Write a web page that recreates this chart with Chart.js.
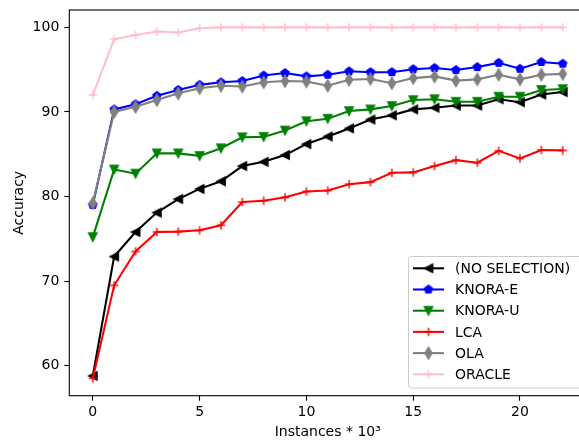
<!DOCTYPE html>
<html lang="en">
<head>
    <meta charset="UTF-8">
    <title>Accuracy vs instances</title>
    <script src="https://cdn.jsdelivr.net/npm/chart.js@4.4.1/dist/chart.umd.min.js"></script>
    <style>
        html, body { margin: 0; padding: 0; overflow: hidden; background: #fff; }
        #wrap { position: absolute; left: 0; top: 0; width: 600px; height: 442px; }
    </style>
</head>
<body>
<div id="wrap"><canvas id="accChart" width="600" height="442"></canvas></div>
<script>
    // --- data ---
    const instances = [0, 1, 2, 3, 4, 5, 6, 7, 8, 9, 10, 11, 12, 13, 14, 15, 16, 17, 18, 19, 20, 21, 22];
    const noSelection = [58.8, 72.9, 75.8, 78.1, 79.7, 80.9, 81.8, 83.6, 84.1, 84.9, 86.2, 87.1, 88.05, 89.1, 89.6, 90.3, 90.5, 90.75, 90.75, 91.5, 91.15, 92.05, 92.35];
    const knoraE = [79.0, 90.3, 90.9, 91.9, 92.6, 93.2, 93.5, 93.65, 94.3, 94.6, 94.2, 94.4, 94.8, 94.7, 94.7, 95.05, 95.2, 94.95, 95.3, 95.8, 95.1, 95.9, 95.7];
    const knoraU = [75.2, 83.2, 82.7, 85.1, 85.1, 84.8, 85.7, 87.0, 87.05, 87.8, 88.9, 89.2, 90.1, 90.3, 90.7, 91.4, 91.5, 91.2, 91.2, 91.8, 91.8, 92.6, 92.7];
    const lca = [58.5, 69.5, 73.5, 75.8, 75.85, 76.0, 76.6, 79.35, 79.5, 79.9, 80.6, 80.7, 81.45, 81.7, 82.8, 82.85, 83.6, 84.3, 84.0, 85.4, 84.5, 85.5, 85.45];
    const ola = [79.2, 90.0, 90.6, 91.4, 92.2, 92.8, 93.1, 93.0, 93.5, 93.65, 93.6, 93.1, 93.8, 93.9, 93.4, 94.0, 94.2, 93.7, 93.85, 94.4, 93.85, 94.4, 94.5];
    const oracle = [92.0, 98.6, 99.1, 99.5, 99.4, 99.9, 100, 100, 100, 100, 100, 100, 100, 100, 100, 100, 100, 100, 100, 100, 100, 100, 100];
    const seriesNames = ['(NO SELECTION)', 'KNORA-E', 'KNORA-U', 'LCA', 'OLA', 'ORACLE'];
    const xTicks = [0, 5, 10, 15, 20];
    const yTicks = [60, 70, 80, 90, 100];

    const FONT = { family: '"DejaVu Sans", sans-serif', size: 14 };
    const MS = 8.33;   // marker size (6pt)
    const MEW = 1.39;  // marker edge width

    // matplotlib-like markers drawn on small canvases
    function makeMarker(shape, color) {
        const c = document.createElement('canvas');
        c.width = 18; c.height = 18;
        const g = c.getContext('2d');
        const h = MS / 2;
        g.translate(9, 9);
        g.fillStyle = color; g.strokeStyle = color; g.lineWidth = MEW; g.lineJoin = 'miter';
        g.beginPath();
        if (shape === '<') {
            g.moveTo(-h, 0); g.lineTo(h, -h); g.lineTo(h, h); g.closePath();
        } else if (shape === 'v') {
            g.moveTo(0, h); g.lineTo(-h, -h); g.lineTo(h, -h); g.closePath();
        } else if (shape === 'p') {
            for (let k = 0; k < 5; k++) {
                const a = -Math.PI / 2 + k * 2 * Math.PI / 5;
                const px = h * Math.cos(a), py = h * Math.sin(a);
                if (k === 0) g.moveTo(px, py); else g.lineTo(px, py);
            }
            g.closePath();
        } else if (shape === 'd') {
            const dy = MS * Math.SQRT2 / 2, dx = dy * 0.6;
            g.moveTo(0, -dy); g.lineTo(dx, 0); g.lineTo(0, dy); g.lineTo(-dx, 0); g.closePath();
        } else if (shape === '+') {
            g.moveTo(-h, 0); g.lineTo(h, 0); g.moveTo(0, -h); g.lineTo(0, h);
            g.stroke();
            return c;
        }
        g.fill(); g.stroke();
        return c;
    }

    const styles = [
        { color: '#000000', marker: '<', data: noSelection },
        { color: '#0000ff', marker: 'p', data: knoraE },
        { color: '#008000', marker: 'v', data: knoraU },
        { color: '#ff0000', marker: '+', data: lca },
        { color: '#808080', marker: 'd', data: ola },
        { color: '#ffc0cb', marker: '+', data: oracle }
    ];

    const datasets = styles.map((s, i) => ({
        label: seriesNames[i],
        data: instances.map((x, j) => ({ x: x, y: s.data[j] })),
        borderColor: s.color,
        backgroundColor: s.color,
        borderWidth: 2.08,
        tension: 0,
        pointStyle: makeMarker(s.marker, s.color),
        pointRadius: 5,
        pointHoverRadius: 5,
        order: styles.length - i    // later series on top, as in the source plot
    }));

    // frame around the axes (spines) and the legend box
    const frameAndLegend = {
        id: 'frameAndLegend',
        afterDatasetsDraw(chart) {
            const ctx = chart.ctx, a = chart.chartArea;
            ctx.save();
            ctx.strokeStyle = '#000'; ctx.lineWidth = 1.1;
            ctx.strokeRect(a.left, a.top, a.right - a.left, a.bottom - a.top);

            // legend (runs past the right edge of the window, like the source)
            const bx = 408.5, by = 256.5, bw = 174, bh = 131.5, r = 2.8;
            ctx.beginPath();
            ctx.moveTo(bx + r, by); ctx.lineTo(bx + bw - r, by); ctx.arcTo(bx + bw, by, bx + bw, by + r, r);
            ctx.lineTo(bx + bw, by + bh - r); ctx.arcTo(bx + bw, by + bh, bx + bw - r, by + bh, r);
            ctx.lineTo(bx + r, by + bh); ctx.arcTo(bx, by + bh, bx, by + bh - r, r);
            ctx.lineTo(bx, by + r); ctx.arcTo(bx, by, bx + r, by, r);
            ctx.closePath();
            ctx.fillStyle = 'rgba(255,255,255,0.8)'; ctx.fill();
            ctx.strokeStyle = '#cccccc'; ctx.lineWidth = 1; ctx.stroke();

            ctx.font = '14px "DejaVu Sans", sans-serif';
            ctx.textBaseline = 'middle'; ctx.textAlign = 'left';
            chart.data.datasets.forEach((ds, i) => {
                const y = 268.3 + i * 21.2;
                ctx.strokeStyle = ds.borderColor; ctx.lineWidth = ds.borderWidth;
                ctx.beginPath(); ctx.moveTo(413, y); ctx.lineTo(444, y); ctx.stroke();
                const m = ds.pointStyle;
                ctx.drawImage(m, 428.5 - m.width / 2, y - m.height / 2);
                ctx.fillStyle = '#000';
                ctx.fillText(ds.label, 455, y + 1);
            });
            ctx.restore();
        }
    };

    function noPad(s) {
        s.paddingTop = 0; s.paddingBottom = 0; s.paddingLeft = 0; s.paddingRight = 0;
    }

    new Chart(document.getElementById('accChart'), {
        type: 'line',
        data: { datasets: datasets },
        options: {
            responsive: false,
            devicePixelRatio: 1,
            animation: false,
            layout: { padding: { left: 10.6, top: 10, right: 13.8, bottom: 1 } },
            plugins: { legend: { display: false }, tooltip: { enabled: false } },
            scales: {
                x: {
                    type: 'linear', min: -1.1, max: 23.1,
                    afterBuildTicks: s => { s.ticks = xTicks.map(v => ({ value: v })); },
                    afterFit: s => { s.height = 45.3; noPad(s); },
                    grid: { drawOnChartArea: false, drawTicks: true, tickLength: 5, tickColor: '#000', tickWidth: 1.1 },
                    border: { display: false },
                    ticks: { color: '#000', font: FONT, padding: 3, maxRotation: 0 },
                    title: { display: true, text: 'Instances * 10³', color: '#000', font: FONT, padding: 0 }
                },
                y: {
                    type: 'linear', min: 56.45, max: 102.05,
                    afterBuildTicks: s => { s.ticks = yTicks.map(v => ({ value: v })); },
                    afterFit: s => { s.width = 58.7; noPad(s); },
                    grid: { drawOnChartArea: false, drawTicks: true, tickLength: 5, tickColor: '#000', tickWidth: 1.1 },
                    border: { display: false },
                    ticks: { color: '#000', font: FONT, padding: 5 },
                    title: { display: true, text: 'Accuracy', color: '#000', font: FONT, padding: 0 }
                }
            }
        },
        plugins: [frameAndLegend]
    });
</script>
</body>
</html>
